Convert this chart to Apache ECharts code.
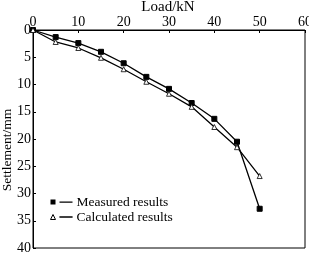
<!DOCTYPE html>
<html><head><meta charset="utf-8">
<script src="https://cdn.jsdelivr.net/npm/echarts@6/dist/echarts.min.js"></script>
<style>html,body{margin:0;padding:0;background:#fff}#c{width:309px;height:254px}</style>
</head><body><div id="c"></div>
<script>
const loads = [0, 5, 10, 15, 20, 25, 30, 35, 40, 45, 50];
const measured = [0, 1.3, 2.4, 4.0, 6.1, 8.6, 10.8, 13.4, 16.3, 20.5, 32.8];
const calculated = [0, 2.2, 3.3, 5.1, 7.2, 9.5, 11.7, 14.1, 17.8, 21.5, 26.8];
const xTitle = 'Load/kN';
const yTitle = 'Settlement/mm';
const names = ['Measured results', 'Calculated results'];

const font = 'Liberation Serif';
const chart = echarts.init(document.getElementById('c'));
const pair = a => loads.map((x, i) => [x, a[i]]);
chart.setOption({
  animation: false,
  textStyle: {fontFamily: font},
  grid: {left: 33, right: 4, top: 30, bottom: 6, outerBoundsMode: 'none', containLabel: false,
    show: true, borderColor: '#000', borderWidth: 1},
  graphic: [
    {type: 'text', x: 168, y: 7, style: {text: xTitle, fontFamily: font, fontSize: 15, fill: '#000',
      align: 'center', verticalAlign: 'middle'}},
    {type: 'text', x: 7, y: 150, rotation: Math.PI / 2, style: {text: yTitle, fontFamily: font, fontSize: 13.5,
      fill: '#000', align: 'center', verticalAlign: 'middle'}}
  ],
  xAxis: {
    type: 'value', position: 'top', min: 0, max: 60, interval: 10,
    axisLine: {show: true, lineStyle: {color: '#000'}},
    axisTick: {show: true, inside: true, length: 3, lineStyle: {color: '#000'}},
    axisLabel: {fontFamily: font, fontSize: 14, color: '#000', margin: 1},
    splitLine: {show: false}
  },
  yAxis: {
    type: 'value', inverse: true, min: 0, max: 40, interval: 5,
    axisLine: {show: true, lineStyle: {color: '#000'}},
    axisTick: {show: true, inside: true, length: 3, lineStyle: {color: '#000'}},
    axisLabel: {fontFamily: font, fontSize: 14, color: '#000', margin: 2},
    splitLine: {show: false}
  },
  legend: {
    left: 50, top: 195, padding: 0, orient: 'vertical', itemGap: 1, itemWidth: 22, itemHeight: 6,
    textStyle: {fontFamily: font, fontSize: 13.5, color: '#000', padding: [0,0,0,-1]},
    data: [
      {name: names[0], icon: 'path://M0,1.5h5v5h-5z M9,3.5h13v1.2h-13z',
        itemStyle: {color: '#000', borderWidth: 0}},
      {name: names[1], icon: 'path://M2.5,1.5L5,6.5H0Z M9,4h13v0.01h-13z',
        itemStyle: {color: '#fff', borderColor: '#000', borderWidth: 1}}
    ]
  },
  series: [
    {name: names[0], type: 'line', data: pair(measured), symbol: 'rect', symbolSize: 5,
      lineStyle: {color: '#000', width: 1.3}, itemStyle: {color: '#000', borderColor: '#000'}},
    {name: names[1], type: 'line', data: pair(calculated), symbol: 'triangle', symbolSize: 5,
      lineStyle: {color: '#000', width: 1.3}, itemStyle: {color: '#fff', borderColor: '#000', borderWidth: 0.8}}
  ]
});
</script></body></html>
